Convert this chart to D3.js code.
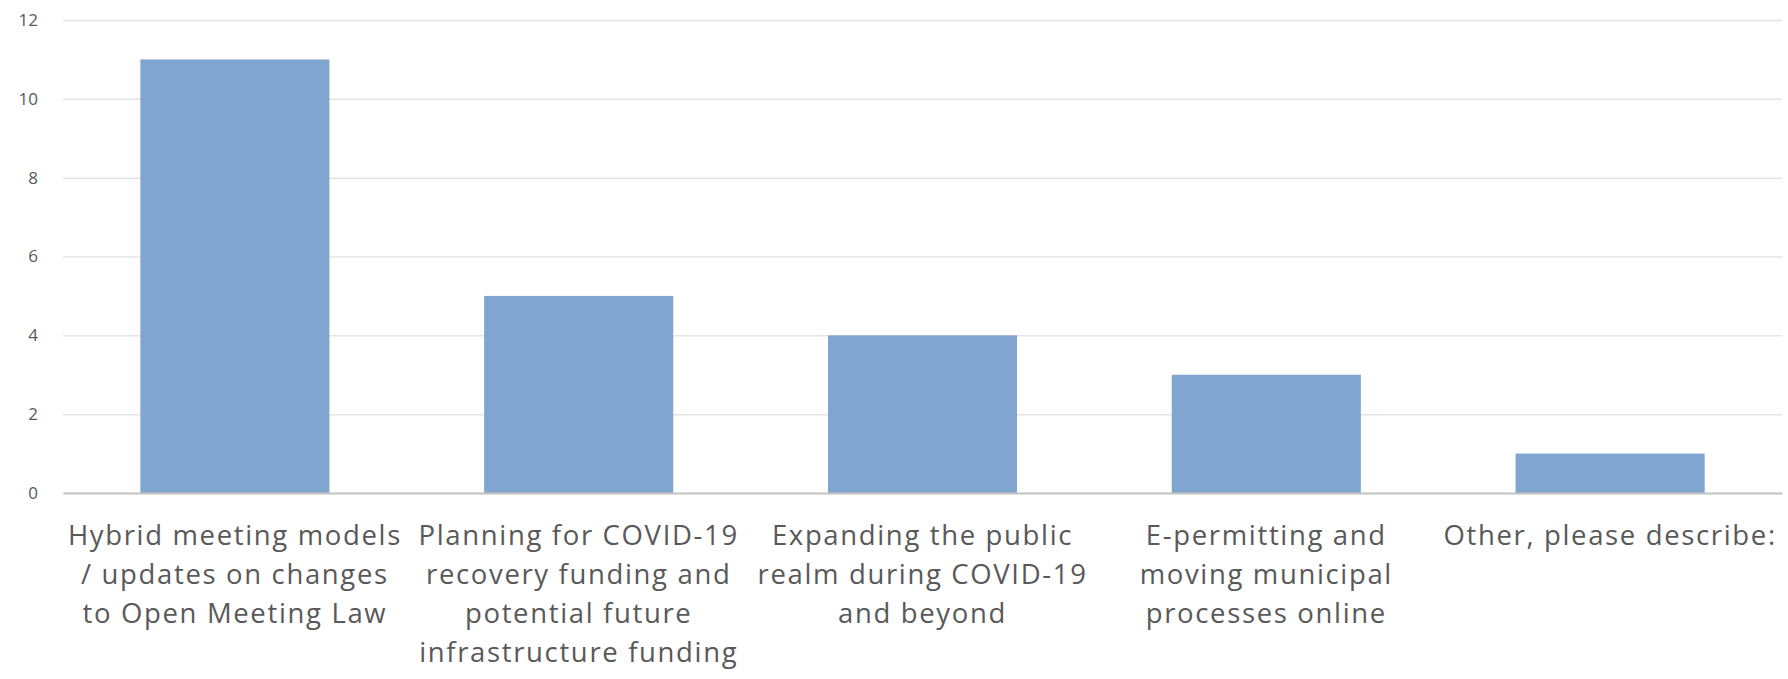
<!DOCTYPE html>
<html>
<head>
<meta charset="utf-8">
<script src="https://cdn.jsdelivr.net/npm/d3@7"></script>
<style>
  html, body { margin: 0; padding: 0; background: #fff; }
  svg { display: block; }
</style>
</head>
<body>
<svg id="chart" width="1788" height="679"></svg>
<script>
const categories = [
  "Hybrid meeting models / updates on changes to Open Meeting Law",
  "Planning for COVID-19 recovery funding and potential future infrastructure funding",
  "Expanding the public realm during COVID-19 and beyond",
  "E-permitting and moving municipal processes online",
  "Other, please describe:"
];
const categoryLines = [
  ["Hybrid meeting models", "/ updates on changes", "to Open Meeting Law"],
  ["Planning for COVID-19", "recovery funding and", "potential future", "infrastructure funding"],
  ["Expanding the public", "realm during COVID-19", "and beyond"],
  ["E-permitting and", "moving municipal", "processes online"],
  ["Other, please describe:"]
];
const values = [11, 5, 4, 3, 1];
const yTicks = [0, 2, 4, 6, 8, 10, 12];

const svg = d3.select("#chart");
const margin = { left: 63, right: 6, top: 20, bottom: 186 };
const W = 1788, H = 679;
const FONT = "'Open Sans', 'Noto Sans', sans-serif";

const x = d3.scaleBand()
  .domain(categories)
  .range([margin.left, W - margin.right])
  .paddingInner(0.45)
  .paddingOuter(0.225);

const y = d3.scaleLinear()
  .domain([0, 12])
  .range([H - margin.bottom, margin.top]);

// gridlines
const grid = svg.append("g")
  .attr("transform", `translate(${margin.left},0)`)
  .call(d3.axisLeft(y).tickValues(yTicks).tickSize(-(W - margin.left - margin.right)).tickFormat(""));
grid.select(".domain").remove();
grid.selectAll(".tick line").attr("stroke", "#e4e4e4").attr("stroke-width", 1.5);

// bars
svg.append("g").selectAll("rect")
  .data(values)
  .join("rect")
  .attr("x", (d, i) => x(categories[i]))
  .attr("width", x.bandwidth())
  .attr("y", d => y(d))
  .attr("height", d => y(0) - y(d))
  .attr("fill", "#80a5cf");

// y axis labels
const yAxis = svg.append("g")
  .attr("transform", `translate(${margin.left},0)`)
  .call(d3.axisLeft(y).tickValues(yTicks).tickSize(0).tickPadding(25));
yAxis.select(".domain").remove();
yAxis.selectAll("text")
  .attr("font-family", FONT)
  .attr("font-size", 17)
  .attr("fill", "#595959");

// baseline axis
const xAxis = svg.append("g")
  .attr("transform", `translate(0,${y(0)})`)
  .call(d3.axisBottom(x).tickSize(0).tickFormat(""));
xAxis.select(".domain").attr("stroke", "#c4c4c4").attr("stroke-width", 2);

// category labels
xAxis.selectAll(".tick").each(function(d, i) {
  const t = d3.select(this).append("text")
    .attr("text-anchor", "middle")
    .attr("font-family", FONT)
    .attr("font-size", 27.5)
    .attr("letter-spacing", 1.65)
    .attr("fill", "#595959");
  categoryLines[i].forEach((line, j) => {
    t.append("tspan").attr("x", 0).attr("y", 51.5 + j * 39.3).text(line);
  });
});
</script>
</body>
</html>
